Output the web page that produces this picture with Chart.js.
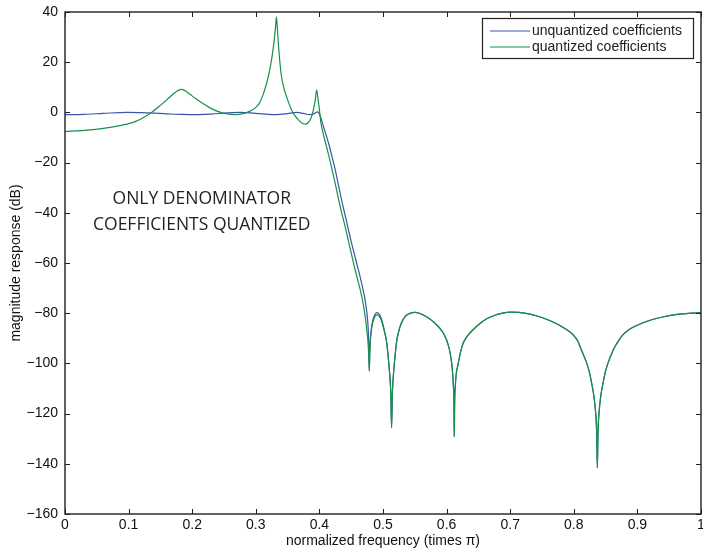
<!DOCTYPE html>
<html>
<head>
<meta charset="utf-8">
<script src="https://cdn.jsdelivr.net/npm/chart.js@4.4.1/dist/chart.umd.min.js"></script>
<style>
  html, body { margin: 0; padding: 0; background: #ffffff; }
  #wrap { position: relative; width: 703px; height: 550px; }
  canvas { display: block; }
</style>
</head>
<body>
<div id="wrap"><canvas id="c" width="703" height="550"></canvas></div>
<script>
// ---- data ----
const seriesNames = ['unquantized coefficients', 'quantized coefficients'];
const annotationLines = ['ONLY DENOMINATOR', 'COEFFICIENTS QUANTIZED'];
const xTicks = [0, 0.1, 0.2, 0.3, 0.4, 0.5, 0.6, 0.7, 0.8, 0.9, 1];
const yTicks = [-160, -140, -120, -100, -80, -60, -40, -20, 0, 20, 40];

// unquantized: passband + transition (frequency in units of pi, magnitude in dB)
const unqFreq = [0, 0.03, 0.06, 0.097, 0.13, 0.16, 0.185, 0.207, 0.23, 0.255, 0.275, 0.295, 0.315, 0.333, 0.35, 0.364, 0.375, 0.385, 0.392, 0.397,
  0.401, 0.405, 0.41, 0.415, 0.42, 0.425, 0.43, 0.435, 0.44, 0.445, 0.45, 0.455, 0.46, 0.465, 0.469, 0.472, 0.4745, 0.4762, 0.4772, 0.478, 0.4785,
  0.4792, 0.4802, 0.4815, 0.4835, 0.486, 0.4885, 0.491, 0.494, 0.497, 0.5];
const unqMag = [-0.9, -0.75, -0.4, 0, -0.2, -0.55, -0.82, -0.9, -0.65, -0.2, 0, -0.25, -0.7, -0.9, -0.45, 0, -0.4, -0.9, -0.5, 0.2,
  -1.2, -4.5, -8.5, -12.8, -17.8, -23, -29, -35, -40.5, -46, -51.5, -56.5, -61.5, -66.5, -71, -75, -79.5, -84, -89, -95, -103,
  -95, -90, -86.5, -83.3, -81.2, -80.1, -79.8, -80.4, -81.8, -84.5];

// quantized: passband + transition
const qFreq = [0, 0.03, 0.055, 0.08, 0.107, 0.12, 0.135, 0.15, 0.16, 0.17, 0.177, 0.183, 0.189, 0.196, 0.205, 0.215, 0.228, 0.24, 0.255, 0.268,
  0.28, 0.29, 0.3, 0.306, 0.312, 0.318, 0.322, 0.326, 0.329, 0.331, 0.3325, 0.334, 0.336, 0.34, 0.345, 0.349, 0.353, 0.357, 0.362, 0.367,
  0.373, 0.379, 0.384, 0.388, 0.391, 0.3935, 0.3957, 0.3975, 0.3994, 0.4025, 0.406, 0.41, 0.415, 0.42, 0.425, 0.43, 0.435, 0.44, 0.445,
  0.45, 0.455, 0.46, 0.465, 0.469, 0.4715, 0.4738, 0.4755, 0.477, 0.4785, 0.4792, 0.4802, 0.4815, 0.4835, 0.486, 0.4885, 0.491, 0.494,
  0.497, 0.5];
const qMag = [-7.6, -7.2, -6.6, -5.6, -4.0, -2.5, -0.2, 2.8, 5, 7.3, 8.6, 9.2, 8.6, 7.3, 5.6, 3.8, 1.8, 0.4, -0.6, -0.9,
  -0.5, 0.4, 2, 3.8, 7.5, 12.5, 17, 23, 29, 34, 38.1, 33, 25.5, 15, 9, 5.8, 3, 0.6, -1.5, -3,
  -4.3, -4.7, -3.6, -1.5, 1.5, 5, 9, 6, 2.3, -4.3, -8.5, -12.5, -17.5, -23, -28.5, -34.5, -40, -45, -50.5,
  -56, -61.5, -66.5, -71.5, -76.5, -80.5, -85, -89, -94, -103, -96, -91, -87.5, -84.2, -82.1, -81, -80.7, -81.2,
  -82.6, -85.2];

// stopband shared by both responses (zeros are not quantized)
const stopFreq = [0.503, 0.506, 0.508, 0.5095, 0.511, 0.5123, 0.5135, 0.5147, 0.516, 0.5175, 0.519, 0.521, 0.524, 0.528, 0.535, 0.543, 0.55, 0.557, 0.564, 0.572,
  0.58, 0.588, 0.594, 0.597, 0.6, 0.602, 0.604, 0.606, 0.608, 0.6095, 0.6107, 0.6115, 0.612, 0.6127, 0.6137, 0.615, 0.618, 0.621, 0.6235, 0.626, 0.633, 0.642, 0.652,
  0.663, 0.675, 0.688, 0.7, 0.713, 0.727, 0.742, 0.756, 0.768, 0.778, 0.789, 0.799, 0.806, 0.809, 0.812, 0.8155, 0.819, 0.824, 0.828, 0.831, 0.833, 0.835,
  0.836, 0.837, 0.838, 0.839, 0.841, 0.843, 0.846, 0.85, 0.855, 0.8585, 0.862, 0.8655, 0.869, 0.876, 0.886, 0.898, 0.91, 0.925, 0.94, 0.955, 0.97, 0.985, 1];
const stopMag = [-88, -92, -97, -101, -106, -112, -125.6, -112, -106, -101, -97, -92, -88, -84.5, -81.3, -80, -79.7, -80, -80.8, -82,
  -83.6, -85.6, -87.6, -89, -90.7, -92.2, -94, -96.5, -100, -104, -109, -115, -129.2, -115, -109, -104.5, -100.5, -96.5, -94, -92, -89, -86.5, -84.2,
  -82.2, -80.9, -80, -79.6, -79.7, -80.2, -81.1, -82.3, -83.6, -84.9, -86.6, -88.6, -91, -92.8, -94.7, -96.8, -99, -103, -107.8, -112, -116, -122,
  -128, -141.5, -128, -122, -116, -112, -107.8, -103, -99, -96.8, -94.7, -93, -91.5, -88.9, -86.7, -85, -83.7, -82.4, -81.5, -80.8, -80.3, -80, -79.8];

// ---- build points ----
function pts(fx, fy) { return fx.map((x, i) => ({ x: x, y: fy[i] })); }
const unqPts = pts(unqFreq, unqMag).concat(pts(stopFreq, stopMag));
const qPts = pts(qFreq, qMag).concat(pts(stopFreq, stopMag));

const BLUE = '#3a55a8';
const GREEN = '#16904a';
const INK = '#231f20';
const FONT = "'Liberation Sans', Arial, Helvetica, sans-serif";

const boxTicks = {
  id: 'boxTicks',
  afterDraw(chart) {
    const ctx = chart.ctx, a = chart.chartArea;
    const xs = chart.scales.x, ys = chart.scales.y;
    ctx.save();
    ctx.strokeStyle = INK;
    ctx.lineWidth = 1;
    const L = 5;
    ctx.beginPath();
    xTicks.forEach(v => {
      const px = Math.round(xs.getPixelForValue(v)) + 0.5;
      ctx.moveTo(px, a.bottom); ctx.lineTo(px, a.bottom - L);
      ctx.moveTo(px, a.top); ctx.lineTo(px, a.top + L);
    });
    yTicks.forEach(v => {
      const py = Math.round(ys.getPixelForValue(v)) + 0.5;
      ctx.moveTo(a.left, py); ctx.lineTo(a.left + L, py);
      ctx.moveTo(a.right, py); ctx.lineTo(a.right - L, py);
    });
    ctx.stroke();
    ctx.lineWidth = 1.4;
    ctx.strokeRect(a.left, a.top, a.right - a.left, a.bottom - a.top);

    // annotation text
    ctx.fillStyle = INK;
    ctx.font = "17.5px 'Open Sans', 'Noto Sans', sans-serif";
    ctx.textAlign = 'center';
    ctx.textBaseline = 'middle';
    const cx = xs.getPixelForValue(0.215);
    ctx.fillText(annotationLines[0], cx, ys.getPixelForValue(-34.4));
    ctx.fillText(annotationLines[1], cx, ys.getPixelForValue(-44.7));

    // legend
    const lx = 482, ly = 18, lw = 211, lh = 40;
    ctx.fillStyle = '#ffffff';
    ctx.fillRect(lx, ly, lw, lh);
    ctx.lineWidth = 1.2;
    ctx.strokeStyle = INK;
    ctx.strokeRect(lx + 0.5, ly + 0.5, lw, lh);
    const cols = [BLUE, GREEN];
    ctx.font = '14px ' + FONT;
    ctx.textAlign = 'left';
    ctx.textBaseline = 'middle';
    seriesNames.forEach((n, i) => {
      const yy = ly + 13 + i * 16;
      ctx.strokeStyle = cols[i];
      ctx.lineWidth = 1.2;
      ctx.beginPath(); ctx.moveTo(490, yy); ctx.lineTo(530, yy); ctx.stroke();
      ctx.fillStyle = '#222';
      ctx.fillText(n, 532, yy);
    });
    ctx.restore();
  }
};

new Chart(document.getElementById('c'), {
  type: 'line',
  data: {
    datasets: [
      { label: seriesNames[1], data: qPts, borderColor: GREEN, borderWidth: 1.2, pointRadius: 0, cubicInterpolationMode: 'monotone', order: 0 },
      { label: seriesNames[0], data: unqPts, borderColor: BLUE, borderWidth: 1.2, pointRadius: 0, cubicInterpolationMode: 'monotone', order: 1 }
    ]
  },
  options: {
    responsive: false,
    animation: false,
    events: [],
    layout: { autoPadding: false, padding: { left: 0, right: 2, top: 12, bottom: 0 } },
    plugins: { legend: { display: false }, tooltip: { enabled: false } },
    scales: {
      x: {
        type: 'linear', min: 0, max: 1,
        afterBuildTicks(s) { s.ticks = xTicks.map(v => ({ value: v })); },
        afterFit(s) { s.height = 36; s.paddingLeft = 0; s.paddingRight = 0; s.paddingTop = 0; s.paddingBottom = 0; },
        grid: { display: false, drawTicks: false },
        border: { display: false },
        title: { display: true, text: 'normalized frequency (times π)', color: '#111', font: { family: FONT, size: 14 }, padding: { top: 0, bottom: 0 } },
        ticks: { color: '#111', font: { family: FONT, size: 14 }, padding: 3, maxRotation: 0, autoSkip: false,
          callback: v => String(Math.round(v * 10) / 10) }
      },
      y: {
        type: 'linear', min: -160, max: 40,
        afterBuildTicks(s) { s.ticks = yTicks.map(v => ({ value: v })); },
        afterFit(s) { s.width = 65; s.paddingLeft = 0; s.paddingRight = 0; s.paddingTop = 0; s.paddingBottom = 0; },
        grid: { display: false, drawTicks: false },
        border: { display: false },
        title: { display: true, text: 'magnitude response (dB)', color: '#111', font: { family: FONT, size: 14 }, padding: { top: 8, bottom: 0 } },
        ticks: { color: '#111', font: { family: FONT, size: 14 }, padding: 7, autoSkip: false,
          callback: v => String(v).replace('-', '\u2212') }
      }
    }
  },
  plugins: [boxTicks]
});
</script>
</body>
</html>
